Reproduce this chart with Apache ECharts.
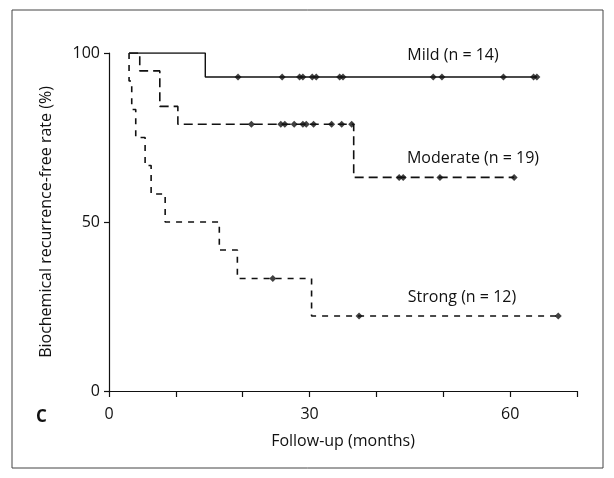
<!DOCTYPE html>
<html>
<head>
<meta charset="utf-8">
<script src="https://cdn.jsdelivr.net/npm/echarts@6/dist/echarts.min.js"></script>
<style>
  html, body { margin: 0; padding: 0; background: #fff; }
  #chart { width: 614px; height: 478px; }
</style>
</head>
<body>
<div id="chart"></div>
<script>
// Kaplan-Meier data (months, % recurrence-free)
var mildTimes = [3, 14.4, 64];
var mildSurv = [100, 92.9, 92.9];
var mildCensored = [19.3, 25.9, 28.5, 29.0, 30.4, 31.0, 34.5, 35.0, 48.5, 49.8, 59.0, 63.5, 64.0];

var modTimes = [3, 4.6, 7.6, 10.3, 36.6, 60.6];
var modSurv = [100, 94.7, 84.2, 78.9, 63.2, 63.2];
var modCensored = [21.3, 25.7, 26.3, 27.7, 29.0, 29.5, 30.6, 33.3, 34.8, 36.3, 43.4, 44.0, 49.5, 60.6];

var strongTimes = [3, 3.0, 3.4, 4.0, 5.4, 6.3, 8.4, 16.5, 19.2, 30.3, 67.2];
var strongSurv = [100, 91.7, 83.3, 75.0, 66.7, 58.3, 50.0, 41.7, 33.3, 22.2, 22.2];
var strongCensored = [24.5, 37.4, 67.2];

var groupLabels = ['Mild (n = 14)', 'Moderate (n = 19)', 'Strong (n = 12)'];
var xLabelValues = [0, 30, 60];

var FONT = 'Open Sans';
var INK = '#111';

function stepData(times, surv) {
    return times.map(function (t, i) { return [t, surv[i]]; });
}
// survival value of the curve at time t (for placing censor ticks)
function censorData(times, surv, cens) {
    return cens.map(function (c) {
        var s = surv[0];
        for (var i = 0; i < times.length; i++) {
            if (times[i] <= c) s = surv[i];
        }
        return [c, s];
    });
}

function curve(name, times, surv, dash, width) {
    return {
        name: name,
        type: 'line',
        step: 'end',
        data: stepData(times, surv),
        showSymbol: false,
        lineStyle: { color: INK, width: width, type: dash },
        z: 2
    };
}
function censors(name, times, surv, cens) {
    return {
        name: name + ' censored',
        type: 'scatter',
        data: censorData(times, surv, cens),
        symbol: 'diamond',
        symbolSize: [7, 7],
        itemStyle: { color: INK },
        z: 3
    };
}

var dom = document.getElementById('chart');
var myChart = echarts.init(dom, null, { renderer: 'canvas' });

var option = {
    animation: false,
    backgroundColor: '#fff',
    grid: { left: 109, right: 37, top: 53, bottom: 87, containLabel: false },
    xAxis: {
        type: 'value',
        min: 0, max: 70, interval: 10,
        name: 'Follow-up (months)',
        nameLocation: 'middle',
        nameGap: 42,
        nameTextStyle: { color: INK, fontFamily: FONT, fontSize: 16 },
        axisLine: { onZero: false, lineStyle: { color: INK, width: 1.2 } },
        axisTick: { show: true, inside: false, length: 6, lineStyle: { color: INK, width: 1.2 } },
        axisLabel: {
            color: INK, fontFamily: FONT, fontSize: 16, margin: 15,
            formatter: function (v) { return xLabelValues.indexOf(v) >= 0 ? String(v) : ''; }
        },
        splitLine: { show: false }
    },
    yAxis: {
        type: 'value',
        min: 0, max: 100, interval: 50,
        name: 'Biochemical recurrence-free rate (%)',
        nameLocation: 'middle',
        nameGap: 55,
        nameTextStyle: { color: INK, fontFamily: FONT, fontSize: 16 },
        axisLine: { show: true, lineStyle: { color: INK, width: 1.2 } },
        axisTick: { show: true, length: 5, lineStyle: { color: INK, width: 1.2 } },
        axisLabel: { color: INK, fontFamily: FONT, fontSize: 16, margin: 9 },
        splitLine: { show: false }
    },
    graphic: [
        {
            type: 'rect', silent: true,
            shape: { x: 12, y: 10, width: 591, height: 458 },
            style: { fill: 'none', stroke: '#444', lineWidth: 1 }
        },
        {
            type: 'text', left: 36, top: 409,
            style: { text: 'C', fill: INK, font: 'bold 17px "' + FONT + '"' }
        },
        {
            type: 'text', x: 453, y: 55,
            style: { text: groupLabels[0], fill: INK, font: '16px "' + FONT + '"', align: 'center', verticalAlign: 'middle' }
        },
        {
            type: 'text', x: 473, y: 158,
            style: { text: groupLabels[1], fill: INK, font: '16px "' + FONT + '"', align: 'center', verticalAlign: 'middle' }
        },
        {
            type: 'text', x: 462, y: 297,
            style: { text: groupLabels[2], fill: INK, font: '16px "' + FONT + '"', align: 'center', verticalAlign: 'middle' }
        }
    ],
    series: [
        curve('Mild', mildTimes, mildSurv, 'solid', 1.4),
        curve('Moderate', modTimes, modSurv, [9, 5], 1.6),
        curve('Strong', strongTimes, strongSurv, [6, 6], 1.6),
        censors('Mild', mildTimes, mildSurv, mildCensored),
        censors('Moderate', modTimes, modSurv, modCensored),
        censors('Strong', strongTimes, strongSurv, strongCensored)
    ]
};

if (option && typeof option === "object") {
    myChart.setOption(option, true);
}
</script>
</body>
</html>
